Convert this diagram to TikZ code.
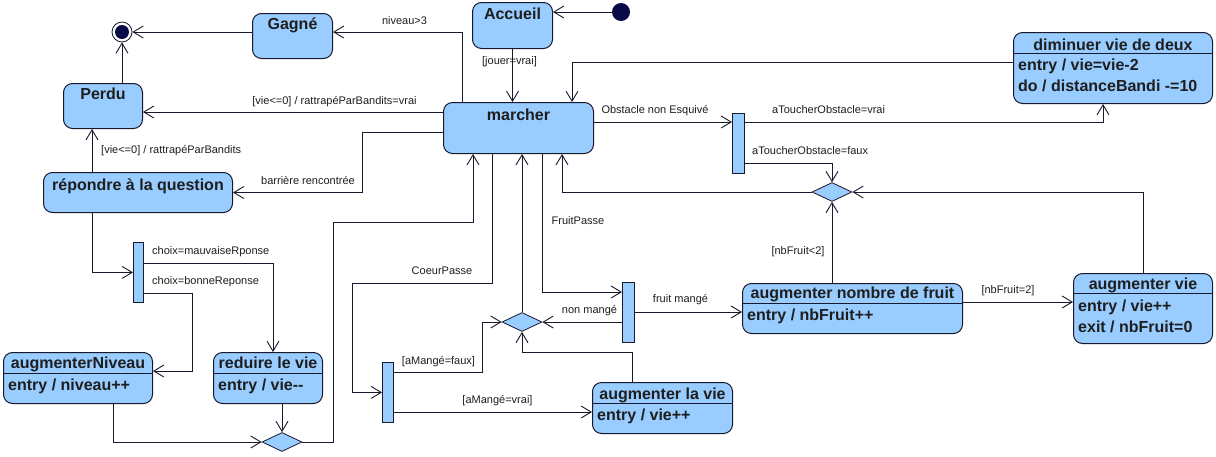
\documentclass[tikz,border=0pt]{standalone}
\usepackage{fontspec}
\setmainfont{Liberation Sans}
\usetikzlibrary{arrows.meta,calc,shapes.geometric}
\definecolor{boxc}{RGB}{153,204,255}
\definecolor{bordc}{RGB}{25,25,45}
\definecolor{navy}{RGB}{10,10,70}
\definecolor{txtc}{RGB}{30,30,30}
\begin{document}
\begin{tikzpicture}[x=1pt,y=-1pt,
  state/.style={draw=bordc, fill=boxc, rounded corners=9pt, line width=1pt, inner sep=0pt, anchor=north west},
  bar/.style={draw=bordc, fill=boxc, line width=0.8pt, inner sep=0pt, anchor=north west},
  choice/.style={diamond, draw=bordc, fill=boxc, line width=0.8pt, inner sep=0pt, minimum width=40pt, minimum height=19pt},
  sep/.style={draw=bordc, line width=0.9pt},
  title/.style={font=\fontsize{16}{18}\selectfont\bfseries, text=txtc, inner sep=0pt, anchor=base},
  entry/.style={font=\fontsize{16}{18}\selectfont\bfseries, text=txtc, inner sep=0pt, anchor=base west},
  lbl/.style={font=\fontsize{11}{13}\selectfont, text=txtc, inner sep=0pt, anchor=base},
  lbll/.style={font=\fontsize{11}{13}\selectfont, text=txtc, inner sep=0pt, anchor=base west},
  arr/.style={draw=bordc, line width=0.9pt, -{Straight Barb[length=10pt,width=12pt,line width=0.9pt]}}
]
\useasboundingbox (0,0) rectangle (1216,456);
\fill[white] (0,0) rectangle (1216,456);

% pseudo states
\node[circle, draw=bordc, fill=white, line width=0.8pt, minimum size=20pt, inner sep=0pt] (final) at (122,32) {};
\fill[navy] (final.center) circle (7pt);
\node[circle, fill=navy, minimum size=18pt, inner sep=0pt] (init) at (621,12) {};

% simple states
\node[state, minimum width=80pt, minimum height=45pt] (gagne) at (252,13) {};
\node[title] (tgagne) at ($(gagne.north)+(0,16)$) {Gagné};
\node[state, minimum width=79pt, minimum height=45pt] (perdu) at (63,83) {};
\node[title] (tperdu) at ($(perdu.north)+(0,16)$) {Perdu};
\node[state, minimum width=80pt, minimum height=46pt] (accueil) at (472,2) {};
\node[title] (taccueil) at ($(accueil.north)+(0,17)$) {Accueil};
\node[state, minimum width=150pt, minimum height=51pt] (marcher) at (443,102) {};
\node[title] (tmarcher) at ($(marcher.north)+(0,18)$) {marcher};
\node[state, minimum width=189pt, minimum height=40pt] (repondre) at (43,172) {};
\node[title] (trepondre) at ($(repondre.north)+(0,18)$) {répondre à la question};

% composite states
\node[state, minimum width=199pt, minimum height=71pt] (diminuer) at (1013,32) {};
\draw[sep] ($(diminuer.north west)+(0,21)$) -- ($(diminuer.north east)+(0,21)$);
\node[title] (tdim) at ($(diminuer.north)+(0,18)$) {diminuer vie de deux};
\node[entry] (edim1) at ($(diminuer.north west)+(5,38)$) {entry / vie=vie-2};
\node[entry] (edim2) at ($(diminuer.north west)+(5,59)$) {do / distanceBandi -=10};

\node[state, minimum width=149pt, minimum height=51pt] (augNiveau) at (3,352) {};
\draw[sep] ($(augNiveau.north west)+(0,21)$) -- ($(augNiveau.north east)+(0,21)$);
\node[title] (tan) at ($(augNiveau.north)+(0,16)$) {augmenterNiveau};
\node[entry] (ean) at ($(augNiveau.north west)+(5,38)$) {entry / niveau++};

\node[state, minimum width=109pt, minimum height=51pt] (reduire) at (213,352) {};
\draw[sep] ($(reduire.north west)+(0,21)$) -- ($(reduire.north east)+(0,21)$);
\node[title] (tred) at ($(reduire.north)+(0,16)$) {reduire le vie};
\node[entry] (ered) at ($(reduire.north west)+(5,38)$) {entry / vie-{}-};

\node[state, minimum width=140pt, minimum height=51pt] (augLaVie) at (592,382) {};
\draw[sep] ($(augLaVie.north west)+(0,21)$) -- ($(augLaVie.north east)+(0,21)$);
\node[title] (tlv) at ($(augLaVie.north)+(0,17)$) {augmenter la vie};
\node[entry] (elv) at ($(augLaVie.north west)+(5,38)$) {entry / vie++};

\node[state, minimum width=220pt, minimum height=50pt] (nbFruit) at (742,283) {};
\draw[sep] ($(nbFruit.north west)+(0,20)$) -- ($(nbFruit.north east)+(0,20)$);
\node[title] (tnf) at ($(nbFruit.north)+(0,15.5)$) {augmenter nombre de fruit};
\node[entry] (enf) at ($(nbFruit.north west)+(5,37)$) {entry / nbFruit++};

\node[state, minimum width=139pt, minimum height=70pt] (augVie) at (1073,273) {};
\draw[sep] ($(augVie.north west)+(0,20)$) -- ($(augVie.north east)+(0,20)$);
\node[title] (tav) at ($(augVie.north)+(0,16)$) {augmenter vie};
\node[entry] (eav1) at ($(augVie.north west)+(5,38.5)$) {entry / vie++};
\node[entry] (eav2) at ($(augVie.north west)+(5,59.5)$) {exit / nbFruit=0};

% bars
\node[bar, minimum width=12pt, minimum height=60pt] (barObs) at (732,113) {};
\node[bar, minimum width=10pt, minimum height=60pt] (barQ) at (133,242) {};
\node[bar, minimum width=11pt, minimum height=60pt] (barCoeur) at (382,362) {};
\node[bar, minimum width=12pt, minimum height=60pt] (barFruit) at (622,282) {};

% choices
\node[choice] (dQ) at (282,442) {};
\node[choice] (dFruit) at (522,322) {};
\node[choice] (dObs) at (832,192) {};

% attachment points
\coordinate (mT1) at ($(marcher.north west)+(19,0)$);
\coordinate (mT3) at ($(marcher.north west)+(129,0)$);
\coordinate (mL1) at ($(marcher.north west)+(0,10)$);
\coordinate (mL2) at ($(marcher.north west)+(0,30)$);
\coordinate (mR1) at ($(marcher.north east)+(0,20)$);
\coordinate (mB1) at ($(marcher.south west)+(30,0)$);
\coordinate (mB2) at ($(marcher.south west)+(49,0)$);
\coordinate (mB4) at ($(marcher.south west)+(99,0)$);
\coordinate (mB5) at ($(marcher.south west)+(119,0)$);
\coordinate (rq) at ($(repondre.north west)+(49,0)$);
\coordinate (bc2) at ($(barCoeur.north east)+(0,50)$);
\coordinate (bf2) at ($(barFruit.north east)+(0,30)$);
\coordinate (nf1) at ($(nbFruit.north east)+(0,19)$);

% connectors
\draw[arr] (init.west) -- (init.west -| accueil.east);
\draw[arr] (accueil.south) -- (accueil.south |- marcher.north);
\draw[arr] (mT1) |- ($(gagne.north east)+(0,19)$);
\draw[arr] ($(gagne.north west)+(0,19)$) -- (final.east);
\draw[arr] (final.south |- perdu.north) -- (final.south);
\draw[arr] (mL1) -- (mL1 -| perdu.east);
\draw[arr] (mL2) -- ++(-81,0) |- (repondre.east);
\draw[arr] (rq) -- (rq |- perdu.south);
\draw[arr] ($(repondre.south west)+(49,0)$) |- (barQ.west);
\draw[arr] ($(barQ.north east)+(0,21)$) -| ($(reduire.north west)+(60,0)$);
\draw[arr] ($(barQ.north east)+(0,51)$) -- ++(49,0) |- ($(augNiveau.north east)+(0,19)$);
\draw[arr] ($(augNiveau.south west)+(110,0)$) |- (dQ.west);
\draw[arr] (dQ.north |- reduire.south) -- (dQ.north);
\draw[arr] (dQ.east) -- ++(31,0) -- ++(0,-220) -| (mB1);
\draw[arr] (mB2) -- ++(0,129) -- ++(-140,0) |- (barCoeur.west);
\draw[arr] ($(barCoeur.north east)+(0,10)$) -- ++(89,0) |- (dFruit.west);
\draw[arr] (bc2) -- (bc2 -| augLaVie.west);
\draw[arr] ($(augLaVie.north west)+(40,0)$) -- ++(0,-30) -| (dFruit.south);
\draw[arr] (dFruit.north) -- (dFruit.north |- marcher.south);
\draw[arr] (mB4) |- ($(barFruit.north west)+(0,10)$);
\draw[arr] (dFruit.east -| barFruit.west) -- (dFruit.east);
\draw[arr] (bf2) -- (bf2 -| nbFruit.west);
\draw[arr] (nf1) -- (nf1 -| augVie.west);
\draw[arr] (dObs.south |- nbFruit.north) -- (dObs.south);
\draw[arr] ($(augVie.north west)+(70,0)$) |- (dObs.east);
\draw[arr] (dObs.west) -| (mB5);
\draw[arr] (mR1) -- (mR1 -| barObs.west);
\draw[arr] (mR1 -| barObs.east) -| ($(diminuer.south west)+(90,0)$);
\draw[arr] ($(barObs.north east)+(0,50)$) -| (dObs.north);
\draw[arr] ($(diminuer.north west)+(0,30)$) -| (mT3);

% labels
\node[lbl] (l1) at (404.5,24) {niveau>3};
\node[lbl] (l2) at (334.5,104) {[vie<=0] / rattrapéParBandits=vrai};
\node[lbll] (l3) at (101,153) {[vie<=0] / rattrapéParBandits};
\node[lbl] (l4) at (509.5,64) {[jouer=vrai]};
\node[lbl] (l5) at (655,113.5) {Obstacle non Esquivé};
\node[lbll] (l6) at (772,113.5) {aToucherObstacle=vrai};
\node[lbll] (l7) at (752,154) {aToucherObstacle=faux};
\node[lbl] (l8) at (308,184) {barrière rencontrée};
\node[lbll] (l9) at (152,254) {choix=mauvaiseRponse};
\node[lbll] (l10) at (152,284) {choix=bonneReponse};
\node[lbl] (l11) at (442,274) {CoeurPasse};
\node[lbl] (l12) at (578,224) {FruitPasse};
\node[lbl] (l13) at (589.5,313.5) {non mangé};
\node[lbl] (l14) at (680.5,302.5) {fruit mangé};
\node[lbl] (l15) at (438.5,364) {[aMangé=faux]};
\node[lbl] (l16) at (497.5,403) {[aMangé=vrai]};
\node[lbl] (l17) at (798,254) {[nbFruit<2]};
\node[lbl] (l18) at (1008,293) {[nbFruit=2]};
\end{tikzpicture}
\end{document}
